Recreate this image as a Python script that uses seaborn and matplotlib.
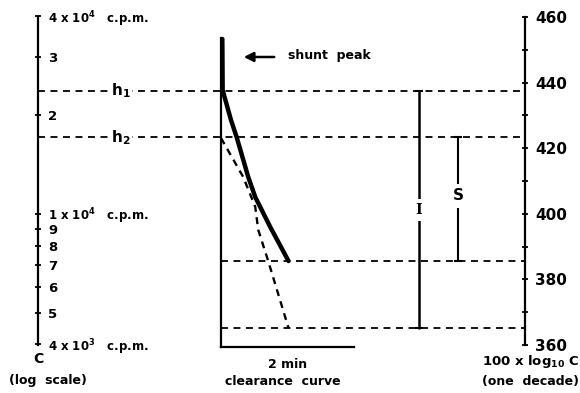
import numpy as np
import pandas as pd
import matplotlib
matplotlib.use("Agg")
import matplotlib.pyplot as plt
import seaborn as sns

# ---------------- data ----------------
# left log-scale ticks (counts per minute)
left_counts = [40000, 30000, 20000, 10000, 9000, 8000, 7000, 6000, 5000, 4000]
left_labels = ["4 x 10$^{4}$   c.p.m.", "3", "2", "1 x 10$^{4}$   c.p.m.",
               "9", "8", "7", "6", "5", "4 x 10$^{3}$   c.p.m."]
# right linear ticks (100 x log10 C)
right_ticks = list(range(360, 461, 10))
right_labels = ["360", "", "380", "", "400", "", "420", "", "440", "", "460"]

# clearance curve (time in min, 100 x log10 C)
curve_t = [0.04, 0.05, 0.30, 0.47, 0.82, 1.03, 1.48, 2.03]
curve_v = [453.3, 437.7, 428.6, 423.4, 411.2, 405.1, 396.0, 385.6]
# extrapolated (dashed) curve
extra_t = [0.0, 0.67, 1.03, 1.12, 1.42, 2.03]
extra_v = [423.1, 411.2, 402.1, 395.1, 385.6, 365.2]

# levels
h1_level = 437.5
h2_level = 423.3
s_low = 385.7
i_low = 365.2

# ---------------- layout helpers (pixel -> data) ----------------
PX_PER_MIN = 33.25
X0 = 221.0
PX_PER_UNIT = 3.28


def px2x(px):
    return (px - X0) / PX_PER_MIN


def py2y(py):
    return 460 - (py - 17) / PX_PER_UNIT


sns.set_theme(style="white")
plt.rcParams["font.family"] = ["DejaVu Sans"]
plt.rcParams["font.weight"] = "bold"
plt.rcParams["mathtext.default"] = "bf"
plt.rcParams["lines.scale_dashes"] = False
plt.rcParams["text.color"] = "black"
plt.rcParams["xtick.color"] = "black"
plt.rcParams["ytick.color"] = "black"

fig = plt.figure(figsize=(5.8, 3.93), dpi=100)
ax = fig.add_axes([0, 0, 1, 1])
ax.set_xlim(px2x(0), px2x(580))
ax.set_ylim(py2y(393), py2y(0))
ax2 = ax.twinx()
ax2.set_ylim(ax.get_ylim())

LEFT_X = px2x(38)
RIGHT_X = px2x(525)

# left log scale axis
ax.patch.set_visible(False)
for s in ["top", "bottom", "left"]:
    ax.spines[s].set_visible(False)
ax.set_xticks([])
ax.spines["right"].set_visible(True)
ax.spines["right"].set_position(("data", LEFT_X))
ax.spines["right"].set_bounds(360, 460)
ax.spines["right"].set_linewidth(1.6)
ax.spines["right"].set_color("black")
ax.yaxis.tick_right()
ax.set_yticks(100 * np.log10(left_counts))
ax.set_yticklabels(left_labels)
ax.tick_params(axis="y", which="both", left=False, right=True, labelleft=False,
               labelright=True, direction="inout", length=5, width=1.3, pad=5,
               labelsize=8.5, colors="black")
for t in ax.get_yticklabels():
    if len(t.get_text()) == 1:
        t.set_fontsize(9.5)
ax.grid(False)

# right linear axis
ax2.patch.set_visible(False)
for s in ["top", "bottom", "left"]:
    ax2.spines[s].set_visible(False)
ax2.spines["right"].set_position(("data", RIGHT_X))
ax2.spines["right"].set_bounds(360, 460)
ax2.spines["right"].set_linewidth(1.6)
ax2.spines["right"].set_color("black")
ax2.set_yticks(right_ticks)
ax2.set_yticklabels(right_labels)
ax2.tick_params(axis="y", direction="inout", length=5, width=1.3, pad=5,
                labelsize=11, colors="black")
ax2.grid(False)

# clearance curve axes (spines only)
ax3 = fig.add_axes([221 / 580, (393 - 347) / 393, 133 / 580, (347 - 38) / 393])
ax3.patch.set_visible(False)
ax3.set_xlim(0, 133 / PX_PER_MIN)
ax3.set_ylim(py2y(347), py2y(38))
for s in ["top", "right"]:
    ax3.spines[s].set_visible(False)
for s in ["left", "bottom"]:
    ax3.spines[s].set_linewidth(1.6)
    ax3.spines[s].set_color("black")
ax3.set_yticks([])
ax3.set_xticks([2], ["2 min"])
ax3.tick_params(axis="x", direction="out", length=4, width=1.3, pad=4,
                labelsize=9, colors="black")
ax3.grid(False)

DASH = (0, (5, 4))

# dashed horizontal levels
ax.plot([LEFT_X, RIGHT_X], [h1_level, h1_level], color="black", lw=1.3, linestyle=DASH)
ax.plot([LEFT_X, RIGHT_X], [h2_level, h2_level], color="black", lw=1.3, linestyle=DASH)
ax.plot([0, RIGHT_X], [s_low, s_low], color="black", lw=1.3, linestyle=DASH)
ax.plot([0, RIGHT_X], [i_low, i_low], color="black", lw=1.3, linestyle=DASH)

# h labels
for lab, lev in [("h$_{1}$", h1_level), ("h$_{2}$", h2_level)]:
    ax.text(px2x(121), lev, lab, ha="center", va="center", fontsize=11,
            bbox=dict(facecolor="white", edgecolor="none", pad=1.0))

# clearance curve and extrapolation
df_curve = pd.DataFrame({"t": curve_t, "v": curve_v})
df_extra = pd.DataFrame({"t": extra_t, "v": extra_v})
sns.lineplot(data=df_curve, x="t", y="v", ax=ax, color="black", lw=3.2,
             sort=False, estimator=None)
sns.lineplot(data=df_extra, x="t", y="v", ax=ax, color="black", lw=1.7,
             sort=False, estimator=None, linestyle=(0, (5, 4)))
ax.set_xlabel("")
ax.set_ylabel("")

# I and S bars
I_X = px2x(419)
S_X = px2x(458)
ax.plot([I_X, I_X], [i_low, h1_level], color="black", lw=1.8, marker="_",
        markersize=6, markeredgewidth=1.5)
ax.plot([S_X, S_X], [s_low, h2_level], color="black", lw=1.5, marker="_",
        markersize=6, markeredgewidth=1.5)
ax.text(I_X, py2y(210), "I", ha="center", va="center", fontsize=10,
        family="DejaVu Serif", fontweight="bold",
        bbox=dict(facecolor="white", edgecolor="none", pad=3.0))
ax.text(S_X, py2y(196), "S", ha="center", va="center", fontsize=11,
        bbox=dict(facecolor="white", edgecolor="none", pad=3.0))

# shunt peak annotation
ax.annotate("", xy=(px2x(241), py2y(57)), xytext=(px2x(277), py2y(57)),
            arrowprops=dict(arrowstyle="-|>", lw=1.8, color="black",
                            mutation_scale=14))
ax.text(px2x(288), py2y(56), "shunt  peak", ha="left", va="center", fontsize=9)

# axis captions
ax.text(LEFT_X, py2y(359), "C", ha="center", va="center", fontsize=10)
ax.text(px2x(48), py2y(380), "(log  scale)", ha="center", va="center", fontsize=9)
ax.text(px2x(283), py2y(381), "clearance  curve", ha="center", va="center", fontsize=9)
ax.text(px2x(531), py2y(361), "100 x log$_{10}$ C", ha="center", va="center", fontsize=9.5)
ax.text(px2x(531), py2y(381), "(one  decade)", ha="center", va="center", fontsize=9)

fig.savefig("out.png", dpi=100)
